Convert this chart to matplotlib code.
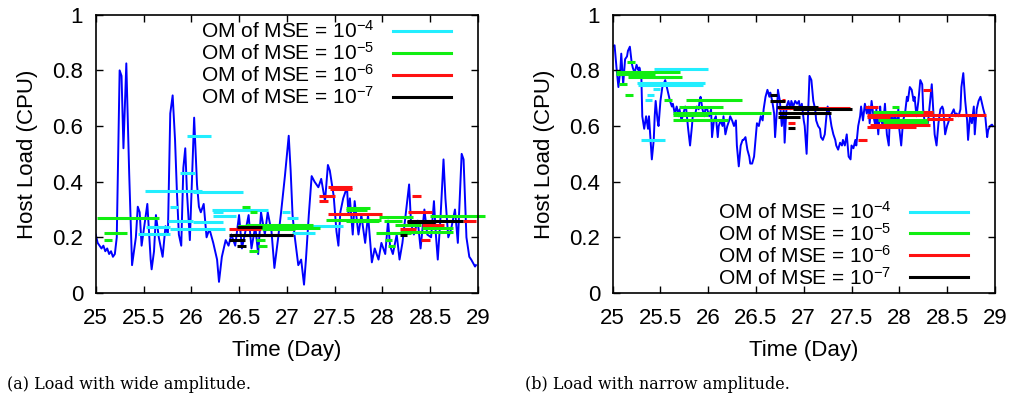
import matplotlib
matplotlib.use("Agg")
import matplotlib.pyplot as plt
from matplotlib.lines import Line2D

plt.rcParams['font.family'] = ['Liberation Sans', 'DejaVu Sans']
plt.rcParams['mathtext.default'] = 'regular'

# ---- (a) wide amplitude : host load trace
wide_t = [25.00, 25.02, 25.04, 25.06, 25.08, 25.10, 25.12, 25.14, 25.16, 25.18,
          25.20, 25.22, 25.25, 25.27, 25.29, 25.32, 25.35, 25.38, 25.42, 25.44,
          25.46, 25.48, 25.50, 25.54, 25.575, 25.585, 25.61, 25.63, 25.66, 25.70,
          25.73, 25.755, 25.78, 25.805, 25.83, 25.85, 25.87, 25.895, 25.917, 25.937,
          25.955, 25.985, 26.03, 26.06, 26.08, 26.10, 26.13, 26.16, 26.19, 26.23,
          26.27, 26.29, 26.32, 26.36, 26.39, 26.42, 26.46, 26.50, 26.53, 26.56,
          26.60, 26.63, 26.67, 26.70, 26.73, 26.77, 26.80, 26.84, 26.87, 26.91,
          26.94, 26.98, 27.02, 27.04, 27.06, 27.08, 27.12, 27.15, 27.18, 27.20,
          27.23, 27.26, 27.29, 27.33, 27.36, 27.40, 27.43, 27.45, 27.49, 27.52,
          27.54, 27.56, 27.59, 27.63, 27.645, 27.66, 27.69, 27.71, 27.75, 27.78,
          27.82, 27.85, 27.89, 27.92, 27.96, 27.99, 28.03, 28.06, 28.08, 28.11,
          28.15, 28.18, 28.21, 28.25, 28.28, 28.30, 28.33, 28.37, 28.40, 28.44,
          28.47, 28.51, 28.54, 28.56, 28.58, 28.61, 28.64, 28.66, 28.69, 28.72,
          28.76, 28.79, 28.83, 28.85, 28.88, 28.91, 28.93, 28.97, 28.98]
wide_load = [0.21, 0.18, 0.17, 0.16, 0.17, 0.15, 0.16, 0.14, 0.15, 0.13,
             0.14, 0.20, 0.80, 0.78, 0.52, 0.825, 0.43, 0.10, 0.20, 0.31,
             0.29, 0.17, 0.22, 0.32, 0.12, 0.085, 0.15, 0.28, 0.20, 0.13,
             0.24, 0.21, 0.645, 0.71, 0.55, 0.36, 0.21, 0.17, 0.45, 0.52,
             0.36, 0.19, 0.63, 0.39, 0.31, 0.29, 0.32, 0.20, 0.23, 0.18,
             0.12, 0.04, 0.13, 0.19, 0.17, 0.21, 0.17, 0.28, 0.16, 0.21,
             0.28, 0.16, 0.24, 0.14, 0.29, 0.21, 0.29, 0.22, 0.09, 0.20,
             0.29, 0.42, 0.565, 0.44, 0.28, 0.21, 0.10, 0.12, 0.03, 0.12,
             0.28, 0.42, 0.40, 0.38, 0.41, 0.33, 0.46, 0.44, 0.35, 0.22,
             0.17, 0.29, 0.34, 0.38, 0.28, 0.34, 0.21, 0.33, 0.21, 0.28,
             0.18, 0.28, 0.11, 0.16, 0.12, 0.18, 0.14, 0.26, 0.17, 0.14,
             0.21, 0.12, 0.18, 0.30, 0.39, 0.25, 0.21, 0.26, 0.16, 0.30,
             0.21, 0.20, 0.33, 0.21, 0.12, 0.28, 0.48, 0.34, 0.20, 0.23,
             0.30, 0.18, 0.50, 0.48, 0.20, 0.13, 0.12, 0.095, 0.10]

# predicted segments (start day, end day, load) per MSE order of magnitude
wide_e4 = [(25.96, 26.21, 0.565), (25.88, 26.04, 0.43), (25.52, 26.11, 0.368),
           (26.02, 26.54, 0.362), (25.78, 25.86, 0.31), (26.22, 26.80, 0.297),
           (26.23, 26.33, 0.29), (26.23, 26.47, 0.278), (26.95, 27.03, 0.29),
           (27.00, 27.12, 0.27), (25.76, 26.02, 0.257), (26.02, 26.33, 0.254),
           (25.53, 25.78, 0.236), (25.78, 26.35, 0.23), (27.03, 27.59, 0.242),
           (27.05, 27.29, 0.215), (25.44, 25.78, 0.212)]
wide_e5 = [(25.01, 25.66, 0.268), (25.09, 25.33, 0.217), (25.09, 25.17, 0.19),
           (26.53, 26.61, 0.31), (26.61, 26.69, 0.29), (26.57, 27.27, 0.245),
           (26.49, 27.03, 0.24), (26.72, 27.35, 0.235), (26.74, 27.09, 0.23),
           (26.68, 26.77, 0.19), (26.70, 26.79, 0.17), (26.60, 26.70, 0.15),
           (27.62, 27.87, 0.305), (27.62, 27.84, 0.297), (27.41, 27.99, 0.263),
           (27.62, 27.97, 0.257), (27.97, 28.32, 0.272), (28.50, 29.07, 0.278),
           (28.02, 28.21, 0.257), (28.13, 28.40, 0.246), (28.41, 28.74, 0.233),
           (28.18, 28.74, 0.22), (27.93, 28.30, 0.214), (28.03, 28.10, 0.19),
           (28.06, 28.13, 0.168)]
wide_e6 = [(27.43, 27.68, 0.38), (27.45, 27.68, 0.373), (27.34, 27.50, 0.35),
           (27.34, 27.43, 0.33), (27.43, 28.00, 0.285), (26.39, 26.73, 0.23),
           (26.44, 27.06, 0.21), (28.31, 28.40, 0.35), (28.27, 28.52, 0.29),
           (28.41, 28.64, 0.245), (28.84, 28.98, 0.26), (28.18, 28.35, 0.23),
           (28.40, 28.50, 0.19)]
wide_e7 = [(26.48, 26.74, 0.237), (26.39, 27.06, 0.21), (26.39, 26.56, 0.19),
           (26.48, 26.57, 0.17), (28.26, 28.84, 0.26), (28.26, 28.55, 0.255),
           (28.18, 28.26, 0.21)]

# ---- (b) narrow amplitude : host load trace
narrow_t = [25.00, 25.02, 25.04, 25.06, 25.08, 25.09, 25.11, 25.13, 25.15, 25.16,
            25.18, 25.20, 25.21, 25.23, 25.25, 25.27, 25.28, 25.30, 25.31, 25.33,
            25.35, 25.37, 25.38, 25.40, 25.41, 25.43, 25.44, 25.45, 25.47, 25.48,
            25.50, 25.52, 25.55, 25.56, 25.58, 25.60, 25.62, 25.63, 25.65, 25.67,
            25.69, 25.70, 25.72, 25.74, 25.76, 25.77, 25.79, 25.81, 25.83, 25.84,
            25.86, 25.88, 25.90, 25.91, 25.92, 25.94, 25.96, 25.97, 25.99, 26.01,
            26.03, 26.04, 26.06, 26.08, 26.10, 26.11, 26.13, 26.15, 26.16, 26.18,
            26.20, 26.22, 26.23, 26.25, 26.27, 26.29, 26.30, 26.32, 26.34, 26.36,
            26.37, 26.39, 26.41, 26.43, 26.44, 26.46, 26.48, 26.50, 26.51, 26.53,
            26.55, 26.57, 26.58, 26.60, 26.62, 26.64, 26.65, 26.67, 26.69, 26.70,
            26.72, 26.73, 26.75, 26.77, 26.79, 26.80, 26.82, 26.84, 26.86, 26.87,
            26.89, 26.91, 26.93, 26.95, 26.96, 26.98, 27.00, 27.01, 27.03, 27.05,
            27.06, 27.08, 27.10, 27.12, 27.13, 27.15, 27.17, 27.18, 27.20, 27.22,
            27.24, 27.25, 27.27, 27.29, 27.31, 27.33, 27.34, 27.36, 27.38, 27.40,
            27.41, 27.43, 27.45, 27.47, 27.49, 27.50, 27.52, 27.54, 27.55, 27.57,
            27.59, 27.60, 27.62, 27.64, 27.66, 27.68, 27.69, 27.71, 27.73, 27.75,
            27.76, 27.78, 27.80, 27.81, 27.83, 27.85, 27.87, 27.89, 27.90, 27.92,
            27.94, 27.95, 27.97, 27.99, 28.00, 28.02, 28.04, 28.06, 28.08, 28.09,
            28.11, 28.13, 28.15, 28.16, 28.18, 28.20, 28.22, 28.24, 28.25, 28.27,
            28.29, 28.30, 28.32, 28.34, 28.35, 28.37, 28.39, 28.41, 28.43, 28.45,
            28.46, 28.48, 28.50, 28.52, 28.53, 28.55, 28.57, 28.59, 28.60, 28.62,
            28.64, 28.65, 28.67, 28.69, 28.71, 28.72, 28.74, 28.76, 28.78, 28.79,
            28.81, 28.83, 28.85, 28.86, 28.88, 28.90, 28.92, 28.93, 28.95, 28.97,
            28.98]
narrow_load = [0.885, 0.89, 0.81, 0.74, 0.80, 0.86, 0.75, 0.84, 0.85, 0.87,
               0.885, 0.825, 0.81, 0.79, 0.82, 0.80, 0.81, 0.78, 0.635, 0.59,
               0.635, 0.59, 0.635, 0.53, 0.48, 0.55, 0.635, 0.69, 0.62, 0.60,
               0.69, 0.74, 0.765, 0.75, 0.72, 0.69, 0.67, 0.68, 0.645, 0.67,
               0.635, 0.66, 0.62, 0.645, 0.67, 0.66, 0.59, 0.53, 0.60, 0.645,
               0.635, 0.67, 0.66, 0.69, 0.705, 0.66, 0.635, 0.66, 0.66, 0.635,
               0.66, 0.56, 0.62, 0.635, 0.56, 0.60, 0.62, 0.60, 0.635, 0.57,
               0.60, 0.62, 0.635, 0.62, 0.60, 0.62, 0.53, 0.455, 0.53, 0.55,
               0.55, 0.56, 0.515, 0.49, 0.465, 0.465, 0.49, 0.57, 0.61, 0.60,
               0.635, 0.62, 0.66, 0.705, 0.73, 0.705, 0.72, 0.69, 0.645, 0.56,
               0.66, 0.73, 0.69, 0.60, 0.66, 0.54, 0.67, 0.69, 0.66, 0.69,
               0.67, 0.69, 0.68, 0.69, 0.66, 0.68, 0.62, 0.60, 0.50, 0.69,
               0.78, 0.765, 0.69, 0.66, 0.62, 0.60, 0.59, 0.56, 0.55, 0.57,
               0.645, 0.67, 0.645, 0.60, 0.57, 0.55, 0.53, 0.515, 0.54, 0.53,
               0.55, 0.53, 0.57, 0.49, 0.48, 0.53, 0.52, 0.55, 0.53, 0.60,
               0.635, 0.67, 0.62, 0.68, 0.645, 0.67, 0.61, 0.69, 0.635, 0.60,
               0.66, 0.57, 0.67, 0.62, 0.60, 0.68, 0.57, 0.53, 0.62, 0.635,
               0.61, 0.645, 0.60, 0.66, 0.59, 0.53, 0.62, 0.645, 0.705, 0.69,
               0.74, 0.73, 0.69, 0.705, 0.635, 0.69, 0.765, 0.75, 0.66, 0.60,
               0.62, 0.61, 0.68, 0.75, 0.69, 0.57, 0.53, 0.61, 0.66, 0.67,
               0.66, 0.57, 0.60, 0.62, 0.635, 0.645, 0.66, 0.635, 0.645, 0.635,
               0.66, 0.74, 0.79, 0.69, 0.62, 0.55, 0.635, 0.61, 0.67, 0.57,
               0.66, 0.69, 0.705, 0.69, 0.66, 0.635, 0.56, 0.585, 0.60, 0.605,
               0.60]

narrow_e4 = [(25.43, 26.00, 0.805), (25.41, 25.63, 0.775), (25.25, 25.97, 0.753),
             (25.26, 25.95, 0.746), (25.42, 25.50, 0.732), (25.36, 25.43, 0.71),
             (25.34, 25.41, 0.694), (25.30, 25.55, 0.55)]
narrow_e5 = [(25.15, 25.23, 0.83), (25.04, 25.70, 0.793), (25.04, 25.44, 0.787),
             (25.16, 25.73, 0.775), (25.07, 25.15, 0.75), (25.13, 25.21, 0.71),
             (25.54, 25.62, 0.694), (25.77, 26.35, 0.694), (25.69, 26.16, 0.67),
             (25.63, 26.66, 0.648), (25.63, 26.00, 0.64), (25.63, 26.21, 0.622),
             (27.92, 28.00, 0.67), (27.73, 28.35, 0.65), (27.73, 28.17, 0.64),
             (27.78, 28.30, 0.622), (27.83, 28.30, 0.61)]
narrow_e6 = [(26.77, 26.80, 0.694), (26.73, 27.48, 0.664), (26.84, 26.91, 0.61),
             (28.25, 28.33, 0.73), (27.64, 27.78, 0.67), (28.25, 28.35, 0.652),
             (27.66, 28.91, 0.64), (27.66, 27.90, 0.632), (28.29, 28.56, 0.624),
             (27.69, 28.32, 0.604), (27.66, 28.18, 0.596), (27.57, 27.66, 0.55)]
narrow_e7 = [(26.65, 26.72, 0.71), (26.65, 26.80, 0.69), (26.72, 27.15, 0.67),
             (26.89, 27.50, 0.66), (26.73, 27.29, 0.646), (26.73, 26.96, 0.634),
             (26.84, 26.91, 0.592)]

labels = ['OM of MSE = 10$^{-4}$', 'OM of MSE = 10$^{-5}$',
          'OM of MSE = 10$^{-6}$', 'OM of MSE = 10$^{-7}$']
colors = ['#22eeff', '#11ee11', '#ff1111', 'black']
FS = 16
LEG_FS = 15


def draw(ax, t, load, segs, legend_loc, anchor):
    ax.plot(t, load, color='#0000ff', lw=1.4, zorder=1)
    for s, c in zip(segs, colors):
        ax.hlines([v[2] for v in s], [v[0] for v in s], [v[1] for v in s],
                  colors=c, lw=2.2, clip_on=False, zorder=2)
    ax.set_xlim(25, 29)
    ax.set_ylim(0, 1)
    ax.set_xticks([25, 25.5, 26, 26.5, 27, 27.5, 28, 28.5, 29])
    ax.set_xticklabels(['25', '25.5', '26', '26.5', '27', '27.5', '28', '28.5', '29'])
    ax.set_yticks([0, 0.2, 0.4, 0.6, 0.8, 1])
    ax.set_yticklabels(['0', '0.2', '0.4', '0.6', '0.8', '1'])
    ax.tick_params(direction='in', top=True, right=True, length=5,
                   labelsize=FS, width=1)
    ax.tick_params(axis='x', pad=11)
    ax.tick_params(axis='y', pad=9)
    ax.set_xlabel('Time (Day)', fontsize=FS, labelpad=8)
    ax.set_ylabel('Host Load (CPU)', fontsize=FS, labelpad=10)
    for sp in ax.spines.values():
        sp.set_linewidth(1.2)
    handles = [Line2D([0], [0], color=c, lw=2.2) for c in colors]
    ax.legend(handles, labels, loc=legend_loc, bbox_to_anchor=anchor,
              markerfirst=False, frameon=False, fontsize=LEG_FS, handlelength=2.8,
              labelspacing=0.0, handletextpad=0.9, borderpad=0, borderaxespad=0)


fig = plt.figure(figsize=(10.11, 3.99), dpi=100)
ax1 = fig.add_axes([0.0947, 0.2657, 0.378, 0.6975])
ax2 = fig.add_axes([0.606, 0.2657, 0.378, 0.6975])

draw(ax1, wide_t, wide_load, [wide_e4, wide_e5, wide_e6, wide_e7],
     'upper right', (0.93, 0.98))
draw(ax2, narrow_t, narrow_load, [narrow_e4, narrow_e5, narrow_e6, narrow_e7],
     'lower right', (0.93, 0.016))

fig.text(0.007, 0.025, '(a) Load with wide amplitude.', family='DejaVu Serif',
         fontsize=11.5)
fig.text(0.519, 0.025, '(b) Load with narrow amplitude.', family='DejaVu Serif',
         fontsize=11.5)

fig.savefig('out.png', dpi=100)
